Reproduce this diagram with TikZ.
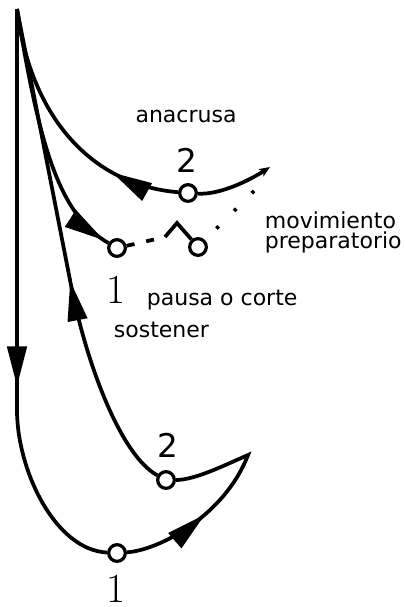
\documentclass[tikz,border=0pt]{standalone}
\usepackage{fontspec}
\newfontfamily\lucsans{DejaVu Sans}
\usetikzlibrary{arrows.meta,decorations.markings}

\begin{document}
\begin{tikzpicture}[
  x=.75pt,y=-.75pt,
  line width=2.8pt,
  beat/.style={circle,draw,fill=white,line width=2.4pt,minimum size=12.5pt,inner sep=0pt},
  lbl/.style={font=\lucsans\fontsize{16.5}{15}\selectfont,inner sep=0pt},
  num/.style={font=\lucsans\fontsize{24.5}{26}\selectfont,inner sep=0pt},
  one/.style={font=\rmfamily\fontsize{31}{32}\selectfont,inner sep=0pt},
  midarr/.style={postaction=decorate,decoration={markings,
    mark=at position #1 with {\arrow{Triangle[length=30pt,width=14.5pt]}}}},
  every path/.style={line join=miter}
]
\path[use as bounding box] (0,0) rectangle (404,607);

\coordinate (top) at (17,9);
\coordinate (cusp) at (248,455);
\coordinate (tipend) at (270,167);
\coordinate (kink) at (177,223);
\coordinate (dashend) at (165,237);
\coordinate (dotend) at (256,189);

\node[beat] (low1) at (117,553) {};
\node[beat] (low2) at (166,480) {};
\node[beat] (up1) at (117,248) {};
\node[beat] (up2) at (188,193) {};
\node[beat] (prep) at (198,247) {};

% downbeat and rebound
\draw[midarr=283pt] (top) -- (17,410) .. controls (17,470) and (55,550) .. (low1);
\draw[midarr=66pt] (low1) .. controls (160,550) and (225,515) .. (cusp)
  .. controls (225,465) and (195,480) .. (low2);
\draw[midarr=163pt] (low2) .. controls (120,455) and (85,360) .. (70,280) -- (top);

% preparation
\draw[midarr=-4pt] (top) .. controls (40,150) and (60,215) .. (up1);
\draw[midarr=52pt] (up2) .. controls (90,185) and (30,115) .. (top);
\draw[-{Stealth[length=8pt,width=6.5pt,inset=2pt]}] (up2) .. controls (220,195) and (250,180) .. (tipend);
\draw[dash pattern=on 6pt off 9pt] (up1) -- (dashend);
\draw (dashend) -- (kink) -- (prep);
\draw[dash pattern=on 2.4pt off 16.4pt,dash phase=6.75pt] (prep) -- (dotend);

\node[lbl,anchor=base] (anacrusa) at (186,122) {anacrusa};
\node[num,anchor=base] (n2a) at (187,172) {2};
\node[lbl,anchor=base west] (mov) at (263,228) {movimiento};
\node[lbl,anchor=base west] (prepl) at (263,248) {preparatorio};
\node[one,anchor=base] (n1a) at (116,303) {1};
\node[lbl,anchor=base west] (pausa) at (145,305) {pausa o corte};
\node[lbl,anchor=base west] (sost) at (112,337) {sostener};
\node[num,anchor=base] (n2b) at (168,457) {2};
\node[one,anchor=base] (n1b) at (116,602) {1};
\end{tikzpicture}
\end{document}
